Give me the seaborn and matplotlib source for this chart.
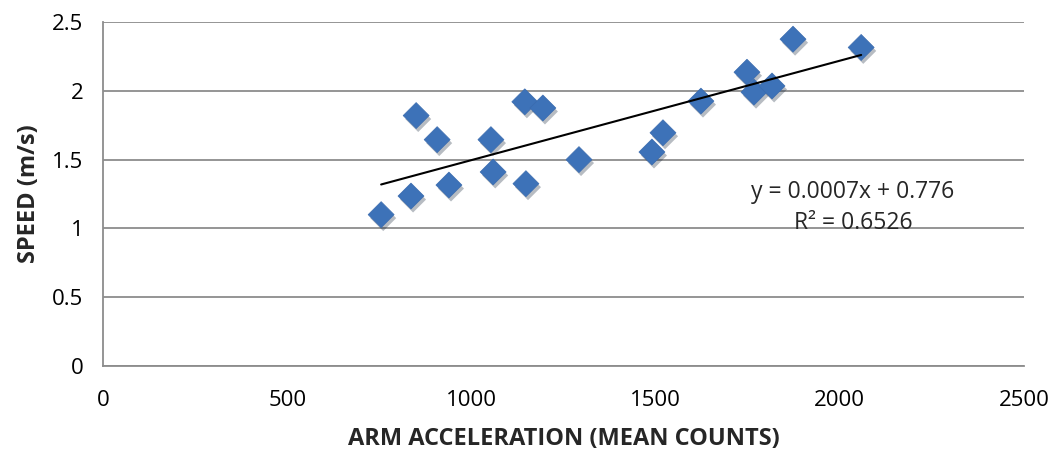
import numpy as np
import pandas as pd
import matplotlib
matplotlib.use("Agg")
import matplotlib.pyplot as plt
import matplotlib.patheffects as pe
import seaborn as sns

arm_acc = [755, 836, 850, 907, 939, 1053, 1059, 1145, 1148, 1194, 1292,
           1490, 1520, 1623, 1748, 1767, 1816, 1873, 2058]
speed = [1.10, 1.235, 1.82, 1.645, 1.315, 1.645, 1.41, 1.92, 1.325, 1.875, 1.50,
         1.555, 1.695, 1.925, 2.135, 1.99, 2.035, 2.375, 2.315]
x_ticks = [0, 500, 1000, 1500, 2000, 2500]
y_ticks = [0, 0.5, 1, 1.5, 2, 2.5]
eq_text = "y = 0.0007x + 0.776"
r2_text = "R² = 0.6526"

df = pd.DataFrame({"arm": arm_acc, "speed": speed})

sns.set_theme(style="white")
plt.rcParams['font.family'] = ['Open Sans', 'DejaVu Sans']

fig = plt.figure(figsize=(10.52, 4.53), dpi=100)
ax = fig.add_axes([103/1052, 1 - 366/453, (1024-103)/1052, (366-22)/453])

sns.regplot(data=df, x="arm", y="speed", ax=ax, ci=None, truncate=True, marker="D",
            scatter_kws=dict(s=175, color="#3D72B8", edgecolor="#3A6BAE",
                             linewidths=0.5, zorder=3, alpha=1,
                             path_effects=[pe.SimplePatchShadow(offset=(1.5, -2.5), alpha=0.3), pe.Normal()]),
            line_kws=dict(color="black", lw=1.5, zorder=4))

ax.set_xlim(0, 2500)
ax.set_ylim(0, 2.5)
ax.set_xticks(x_ticks)
ax.set_yticks(y_ticks)
ax.set_xticklabels([str(t) for t in x_ticks], fontsize=16)
ax.set_yticklabels(["0", "0.5", "1", "1.5", "2", "2.5"], fontsize=16)
ax.yaxis.grid(True, color="#8C8C8C", lw=1.3)
ax.set_axisbelow(True)
for s in ["top", "right"]:
    ax.spines[s].set_visible(False)
for s in ["left", "bottom"]:
    ax.spines[s].set_color("#8C8C8C")
    ax.spines[s].set_linewidth(1.3)
ax.tick_params(axis="both", direction="out", length=5, width=1.3, color="#8C8C8C",
               labelcolor="black")
ax.tick_params(axis="x", pad=12)
ax.tick_params(axis="y", pad=9)

ax.set_xlabel("ARM ACCELERATION (MEAN COUNTS)", fontsize=17, fontweight="bold", labelpad=12)
ax.set_ylabel("SPEED (m/s)", fontsize=17, fontweight="bold", labelpad=8)

ax.text(2036, 1.265, eq_text, ha="center", va="center", fontsize=16.5)
ax.text(2036, 1.04, r2_text, ha="center", va="center", fontsize=16.5)

fig.savefig("out.png", dpi=100)
